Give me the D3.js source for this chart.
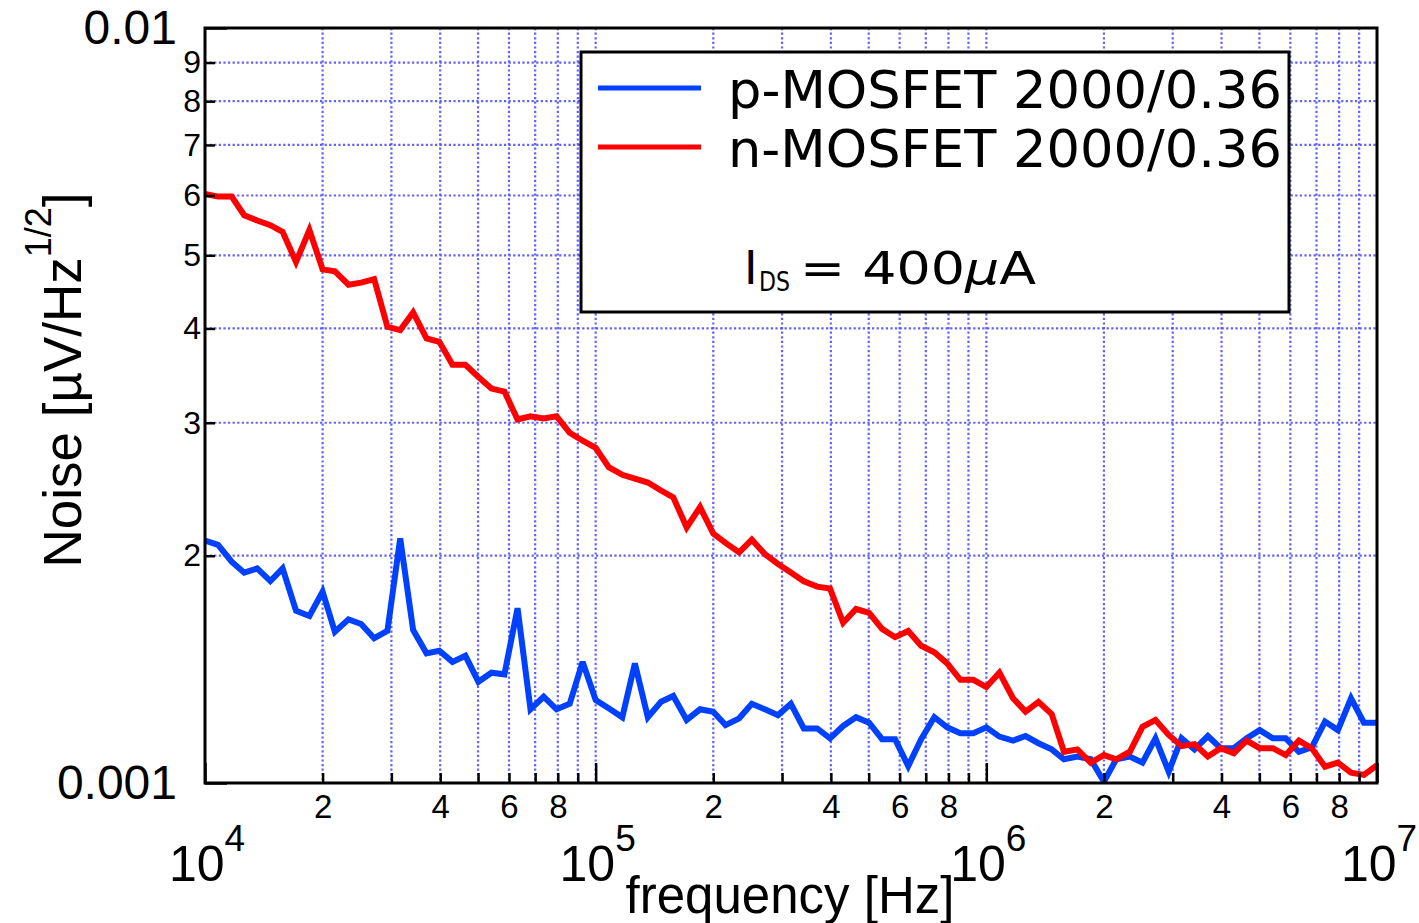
<!DOCTYPE html>
<html>
<head>
<meta charset="utf-8">
<script src="https://cdn.jsdelivr.net/npm/d3@7"></script>
<style>
  html, body { margin: 0; padding: 0; background: #fff; }
</style>
</head>
<body>
<div id="chart"></div>
<script>
// frequency points, kHz
const freqKHz = [
  10, 10.8, 11.7, 12.6, 13.6, 14.7, 15.8, 17.1, 18.5, 20.0,
  21.5, 23.3, 25.1, 27.1, 29.3, 31.6, 34.1, 36.9, 39.8, 43.0,
  46.4, 50.1, 54.1, 58.4, 63.1, 68.1, 73.6, 79.4, 85.8, 92.6,
  100, 108, 117, 126, 136, 147, 158, 171, 185, 200,
  215, 233, 251, 271, 293, 316, 341, 369, 398, 430,
  464, 501, 541, 584, 631, 681, 736, 794, 858, 926,
  1000, 1080, 1170, 1260, 1360, 1470, 1580, 1710, 1850, 2000,
  2150, 2330, 2510, 2710, 2930, 3160, 3410, 3690, 3980, 4300,
  4640, 5010, 5410, 5840, 6310, 6810, 7360, 7940, 8580, 9260,
  10000
];

// p-MOSFET noise [uV/Hz^1/2]
const pMosNoise = [
  0.002094, 0.002067, 0.001964, 0.001899, 0.001924, 0.001851, 0.001924, 0.001691, 0.001664, 0.001792,
  0.001586, 0.001647, 0.001624, 0.001555, 0.001590, 0.002109, 0.001595, 0.001485, 0.001497, 0.001447,
  0.001474, 0.001362, 0.001400, 0.001393, 0.001704, 0.001252, 0.001301, 0.001252, 0.001273, 0.001447,
  0.001288, 0.001256, 0.001222, 0.001440, 0.001222, 0.001281, 0.001304, 0.001212, 0.001252, 0.001243,
  0.001193, 0.001218, 0.001273, 0.001252, 0.001230, 0.001273, 0.001181, 0.001181, 0.001146, 0.001190,
  0.001222, 0.001202, 0.001143, 0.001143, 0.001053, 0.001143, 0.001222, 0.001185, 0.001164, 0.001164,
  0.001185, 0.001152, 0.001138, 0.001154, 0.001129, 0.001108, 0.001075, 0.001084, 0.001075, 0.001004,
  0.001075, 0.001084, 0.001064, 0.001146, 0.001035, 0.001146, 0.001108, 0.001154, 0.001112, 0.001112,
  0.001146, 0.001175, 0.001146, 0.001146, 0.001100, 0.001115, 0.001206, 0.001175, 0.001295, 0.001202,
  0.001202
];

// n-MOSFET noise [uV/Hz^1/2]
const nMosNoise = [
  0.00603, 0.00598, 0.00598, 0.00565, 0.00556, 0.00548, 0.00537, 0.00490, 0.00540, 0.00479,
  0.00476, 0.00457, 0.00460, 0.00465, 0.00402, 0.00398, 0.00420, 0.00388, 0.00384, 0.00358,
  0.00358, 0.00345, 0.00333, 0.00330, 0.00303, 0.00306, 0.00304, 0.00306, 0.00291, 0.00284,
  0.00278, 0.00262, 0.00256, 0.00253, 0.00250, 0.00244, 0.00239, 0.00218, 0.00232, 0.00214,
  0.00208, 0.00202, 0.00210, 0.00201, 0.00195, 0.00190, 0.00185, 0.00182, 0.00181, 0.00163,
  0.00170, 0.00168, 0.00160, 0.00156, 0.00159, 0.00152, 0.00149, 0.00144, 0.00137, 0.00137,
  0.00134, 0.00140, 0.001295, 0.001243, 0.001281, 0.001234, 0.001100, 0.001108, 0.001064, 0.001089,
  0.001075, 0.001100, 0.001187, 0.001212, 0.001158, 0.001119, 0.001126, 0.001084, 0.001112, 0.001095,
  0.001138, 0.001112, 0.001112, 0.001089, 0.001138, 0.001112, 0.001051, 0.001064, 0.001032, 0.001025,
  0.001056
];

const seriesNames = ['p-MOSFET 2000/0.36', 'n-MOSFET 2000/0.36'];
const seriesColors = ['#0040ff', '#ff0000'];

// ticks
const xDecades = [1e4, 1e5, 1e6, 1e7];
const xDecadeExps = ['4', '5', '6', '7'];
const minorSteps = [2, 3, 4, 5, 6, 7, 8, 9];
const xMinorLabels = ['2', '', '4', '', '6', '', '8', ''];
const yMajor = [0.001, 0.01];
const yMajorLabels = ['0.001', '0.01'];
const yMinorLabels = ['2', '3', '4', '5', '6', '7', '8', '9'];

const NoisePainter = {};

NoisePainter.option = {
  width: 1419,
  height: 923,
  margin: {top: 28, right: 42, bottom: 140, left: 205},
  gridColor: '#5050ff',
  axisFont: '"Liberation Sans", Arial, Helvetica, sans-serif',
  legendFont: '"DejaVu Sans", Verdana, sans-serif'
};

NoisePainter.painting = (container) => {
  const o = NoisePainter.option;
  const svg = d3.select(container).append('svg')
      .attr('width', o.width)
      .attr('height', o.height)
      .style('display', 'block');

  svg.append('rect').attr('width', o.width).attr('height', o.height).attr('fill', '#fff');

  const x = d3.scaleLog()
      .domain([xDecades[0], xDecades[xDecades.length - 1]])
      .range([o.margin.left, o.width - o.margin.right]);
  const y = d3.scaleLog()
      .domain([yMajor[0], yMajor[1]])
      .range([o.height - o.margin.bottom, o.margin.top]);

  const xMinor = [];
  xDecades.slice(0, -1).forEach((d) => minorSteps.forEach((k) => xMinor.push(k * d)));
  const xMinorText = [];
  xDecades.slice(0, -1).forEach(() => xMinorLabels.forEach((l) => xMinorText.push(l)));
  const yMinor = minorSteps.map((k) => k * yMajor[0]);

  const x0 = x.range()[0];
  const x1 = x.range()[1];
  const y0 = y.range()[0];
  const y1 = y.range()[1];

  // grid
  const grid = svg.append('g')
      .attr('stroke', o.gridColor)
      .attr('stroke-width', 2.2)
      .attr('stroke-opacity', 0.9)
      .attr('stroke-dasharray', '2.2,2.4');
  grid.selectAll('line.vx')
      .data(xMinor.concat(xDecades.slice(1, -1)))
      .join('line')
      .attr('x1', (d) => x(d)).attr('x2', (d) => x(d))
      .attr('y1', y1).attr('y2', y0);
  grid.selectAll('line.hy')
      .data(yMinor)
      .join('line')
      .attr('class', 'hy')
      .attr('x1', x0).attr('x2', x1)
      .attr('y1', (d) => y(d)).attr('y2', (d) => y(d));

  // data lines
  svg.append('clipPath').attr('id', 'plotClip')
      .append('rect')
      .attr('x', x0).attr('y', y1)
      .attr('width', x1 - x0).attr('height', y0 - y1);

  const line = d3.line()
      .x((d, i) => x(freqKHz[i] * 1000))
      .y((d) => y(d));

  svg.append('g')
      .attr('clip-path', 'url(#plotClip)')
      .selectAll('path')
      .data([pMosNoise, nMosNoise])
      .join('path')
      .attr('d', line)
      .attr('fill', 'none')
      .attr('stroke', (d, i) => seriesColors[i])
      .attr('stroke-width', 6)
      .attr('stroke-linejoin', 'miter')
      .attr('stroke-miterlimit', 3);

  // axes (inward ticks)
  const styleAxis = (g) => {
    g.select('.domain').remove();
    g.selectAll('.tick line').attr('stroke', '#000').attr('stroke-width', 2.5);
    g.selectAll('.tick text').attr('fill', '#000').attr('font-family', o.axisFont);
  };

  svg.append('g')
      .attr('transform', `translate(0,${y0})`)
      .call(d3.axisBottom(x)
          .tickValues(xMinor)
          .tickSize(-10)
          .tickPadding(12)
          .tickFormat((d, i) => xMinorText[i]))
      .call(styleAxis)
      .selectAll('.tick text')
      .attr('font-size', 33);

  svg.append('g')
      .attr('transform', `translate(0,${y0})`)
      .call(d3.axisBottom(x)
          .tickValues(xDecades)
          .tickSize(-20)
          .tickFormat(''))
      .call(styleAxis);

  svg.append('g')
      .attr('transform', `translate(${x0},0)`)
      .call(d3.axisLeft(y)
          .tickValues(yMinor)
          .tickSize(-10)
          .tickPadding(4)
          .tickFormat((d, i) => yMinorLabels[i]))
      .call(styleAxis)
      .selectAll('.tick text')
      .attr('font-size', 32);

  svg.append('g')
      .attr('transform', `translate(${x0},0)`)
      .call(d3.axisLeft(y)
          .tickValues(yMajor)
          .tickSize(-22)
          .tickPadding(28)
          .tickFormat((d, i) => yMajorLabels[i]))
      .call(styleAxis)
      .selectAll('.tick text')
      .attr('font-size', 48);

  // decade labels 10^n
  const dec = svg.append('g')
      .attr('font-family', o.axisFont)
      .attr('text-anchor', 'middle')
      .selectAll('text')
      .data(xDecades)
      .join('text')
      .attr('x', (d) => x(d) + 2)
      .attr('y', 881)
      .attr('font-size', 50);
  dec.append('tspan').text('10');
  dec.append('tspan')
      .attr('font-size', 37)
      .attr('dy', -30)
      .text((d, i) => xDecadeExps[i]);

  // frame
  svg.append('rect')
      .attr('x', x0).attr('y', y1)
      .attr('width', x1 - x0).attr('height', y0 - y1)
      .attr('fill', 'none')
      .attr('stroke', '#000')
      .attr('stroke-width', 3);

  // axis titles
  svg.append('text')
      .attr('x', 790)
      .attr('y', 913)
      .attr('text-anchor', 'middle')
      .attr('font-family', o.axisFont)
      .attr('font-size', 51)
      .text('frequency [Hz]');

  const yTitle = svg.append('text')
      .attr('transform', 'translate(81,380) rotate(-90)')
      .attr('text-anchor', 'middle')
      .attr('font-family', o.axisFont)
      .attr('font-size', 53);
  yTitle.append('tspan').text('Noise [\u00B5V/Hz');
  yTitle.append('tspan').attr('font-size', 36).attr('dy', -30).text('1/2');
  yTitle.append('tspan').attr('dy', 30).text(']');

  // legend
  const lg = svg.append('g').attr('font-family', o.legendFont);
  lg.append('rect')
      .attr('x', 581).attr('y', 52)
      .attr('width', 708).attr('height', 260)
      .attr('fill', '#fff')
      .attr('stroke', '#000')
      .attr('stroke-width', 3);
  const rowY = [88, 147];
  seriesNames.forEach((name, i) => {
    lg.append('line')
        .attr('x1', 598).attr('x2', 701)
        .attr('y1', rowY[i]).attr('y2', rowY[i])
        .attr('stroke', seriesColors[i])
        .attr('stroke-width', 5);
    lg.append('text')
        .attr('x', 728)
        .attr('y', rowY[i] + 20)
        .attr('font-size', 51)
        .attr('textLength', 554)
        .attr('lengthAdjust', 'spacingAndGlyphs')
        .text(name);
  });
  lg.append('text')
      .attr('x', 744).attr('y', 284)
      .attr('font-size', 46)
      .text('I');
  lg.append('text')
      .attr('x', 759).attr('y', 291)
      .attr('font-size', 27)
      .attr('textLength', 31)
      .attr('lengthAdjust', 'spacingAndGlyphs')
      .text('DS');
  const ids = lg.append('text')
      .attr('x', 800).attr('y', 284)
      .attr('font-size', 45)
      .attr('textLength', 236)
      .attr('lengthAdjust', 'spacingAndGlyphs');
  ids.append('tspan').text('= 400');
  ids.append('tspan').attr('font-style', 'italic').text('\u03BC');
  ids.append('tspan').text('A');
};

NoisePainter.painting(document.getElementById('chart'));
</script>
</body>
</html>
